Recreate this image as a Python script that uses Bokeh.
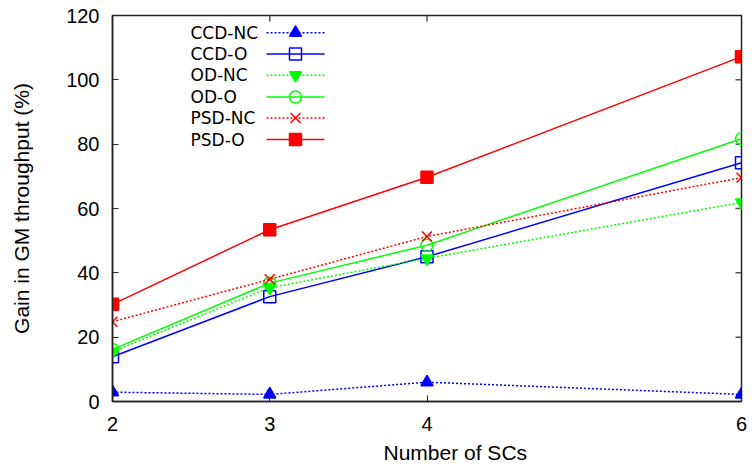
from bokeh.plotting import figure
from bokeh.models import Range1d, FixedTicker, Title
from bokeh.embed import file_html
from bokeh.resources import INLINE

# ---- data ----
x_scs = [2, 3, 4, 6]
ccd_nc = [2.9, 2.2, 6.0, 2.2]
ccd_o = [13.9, 32.6, 45.0, 74.2]
od_nc = [15.5, 35.4, 44.5, 61.9]
od_o = [16.2, 36.8, 48.6, 81.7]
psd_nc = [24.8, 38.0, 51.3, 69.6]
psd_o = [30.2, 53.4, 69.7, 107.2]
series_names = ["CCD-NC", "CCD-O", "OD-NC", "OD-O", "PSD-NC", "PSD-O"]
x_ticks = [2, 3, 4, 6]
y_ticks = [0, 20, 40, 60, 80, 100, 120]

W, H = 752, 473
L, R, T, B = 112, 741, 15, 401  # frame edges in pixels

p = figure(width=W, height=H, output_backend="svg", toolbar_location=None,
           x_range=Range1d(2, 6), y_range=Range1d(0, 120),
           min_border_left=L, min_border_right=W - R, min_border_top=T,
           min_border_bottom=H - B)
p.grid.visible = False
p.background_fill_color = "white"
p.border_fill_color = "white"
p.outline_line_color = "#222222"
p.outline_line_width = 1.5

TICK_FONT = "Liberation Sans"
for ax in (p.xaxis[0], p.yaxis[0]):
    ax.axis_line_color = "#222222"
    ax.axis_line_width = 1.5
    ax.major_tick_in = 6
    ax.major_tick_out = 0
    ax.minor_tick_in = 0
    ax.minor_tick_out = 0
    ax.major_tick_line_color = "#222222"
    ax.major_label_text_font = TICK_FONT
    ax.major_label_text_font_size = "20px"
    ax.major_label_text_color = "black"
p.xaxis[0].ticker = FixedTicker(ticks=x_ticks)
p.yaxis[0].ticker = FixedTicker(ticks=y_ticks)
p.xaxis[0].major_label_standoff = 15
p.yaxis[0].major_label_standoff = 13
p.yaxis[0].axis_label = "Gain in GM throughput (%)"
p.yaxis[0].axis_label_text_font = TICK_FONT
p.yaxis[0].axis_label_text_font_size = "21px"
p.yaxis[0].axis_label_text_font_style = "normal"
p.yaxis[0].axis_label_text_color = "black"
p.yaxis[0].axis_label_standoff = 30

def px2x(px):
    return 2 + (px - L) * 4.0 / (R - L)

def py2y(py):
    return (B - py) * 120.0 / (B - T)

# mirrored ticks on top and right (inside the frame)
tick_dx = 6 * 4.0 / (R - L)
tick_dy = 6 * 120.0 / (B - T)
top_x = [t for t in x_ticks[1:-1]]
p.segment(x0=top_x, y0=[120] * len(top_x), x1=top_x, y1=[120 - tick_dy] * len(top_x),
          line_color="#555555", line_width=1.5)
right_y = [t for t in y_ticks[1:-1]]
p.segment(x0=[6] * len(right_y), y0=right_y, x1=[6 - tick_dx] * len(right_y), y1=right_y,
          line_color="#555555", line_width=1.5)

BLUE, GREEN, RED = "#0000ff", "#00ff00", "#ff0000"
DOT = "2 2"

series = [
    (ccd_nc, BLUE, DOT, "triangle", True, 12),
    (ccd_o, BLUE, "solid", "square", False, 12),
    (od_nc, GREEN, DOT, "inverted_triangle", True, 12),
    (od_o, GREEN, "solid", "circle", False, 12),
    (psd_nc, RED, DOT, "x", False, 14),
    (psd_o, RED, "solid", "square", True, 12),
]

legend_rows = [32.3, 53.5, 74.8, 96.5, 117.5, 139.0]
for (vals, col, dash, marker, filled, size), name, row in zip(series, series_names, legend_rows):
    p.line(x_scs, vals, line_color=col, line_width=1.5, line_dash=dash)
    p.scatter(x_scs, vals, marker=marker, size=size, line_color=col, line_width=1.5,
              fill_color=col if filled else None, fill_alpha=1 if filled else 0)
    # legend sample
    yl = py2y(row)
    p.line([px2x(266), px2x(324)], [yl, yl], line_color=col, line_width=1.5, line_dash=dash)
    p.scatter([px2x(295)], [yl], marker=marker, size=size, line_color=col, line_width=1.5,
              fill_color=col if filled else None, fill_alpha=1 if filled else 0)
    p.text([px2x(190)], [yl], text=[name], text_font={"value": "DejaVu Sans"},
           text_font_size="17px", text_color="black", text_baseline="middle",
           text_align="left")

xt = Title(text="Number of SCs", align="left", offset=383 - L, text_font=TICK_FONT,
           text_font_size="21px", text_font_style="normal", text_color="black", standoff=11)
p.add_layout(xt, "below")

open("out.html", "w").write(file_html(p, INLINE))
